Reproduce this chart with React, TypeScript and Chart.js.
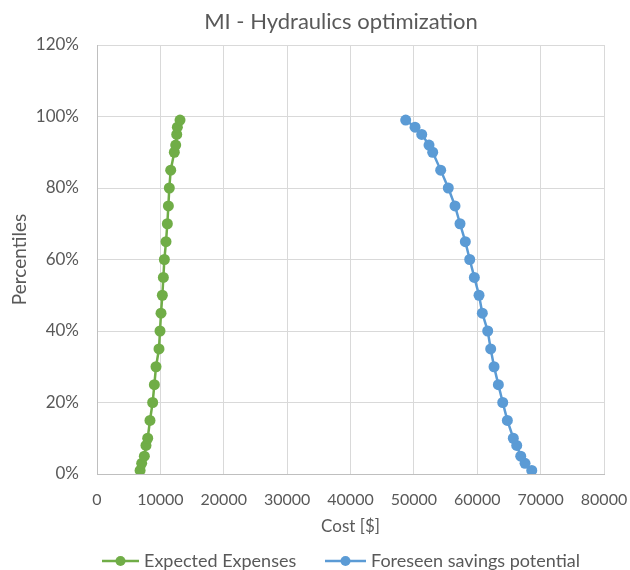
import React, { useEffect, useRef } from "react";
import { Chart, registerables } from "chart.js";

Chart.register(...registerables);

const chartTitle = "MI - Hydraulics optimization";
const xTitle = "Cost [$]";
const yTitle = "Percentiles";
const seriesNames = ["Expected Expenses", "Foreseen savings potential"];
const seriesColors = ["#70AD47", "#5B9BD5"];

const percentiles = [1, 3, 5, 8, 10, 15, 20, 25, 30, 35, 40, 45, 50, 55, 60, 65, 70, 75, 80, 85, 90, 92, 95, 97, 99];
const expectedExpenses = [6800, 7050, 7470, 7730, 8000, 8360, 8780, 9050, 9310, 9780, 9940, 10100, 10310, 10470, 10630, 10890, 11100, 11260, 11410, 11630, 12200, 12420, 12580, 12680, 13100];
const savingsPotential = [68600, 67540, 66860, 66230, 65690, 64750, 64020, 63330, 62650, 62120, 61650, 60800, 60280, 59540, 58810, 58120, 57280, 56490, 55430, 54230, 52970, 52390, 51240, 50180, 48710];

const xMin = 0, xMax = 80000, xStep = 10000;
const yMin = 0, yMax = 120, yStep = 20;

const FONT = "Lato, 'Open Sans', sans-serif";
const TEXT = "#595959";

const labelsPlugin = {
  id: "customLabels",
  afterDraw(chart: any) {
    const ctx = chart.ctx;
    const area = chart.chartArea;
    ctx.save();
    ctx.fillStyle = TEXT;
    // title
    ctx.font = `22px ${FONT}`;
    ctx.textAlign = "center";
    ctx.textBaseline = "middle";
    ctx.fillText(chartTitle, 341, 22);
    // x title
    ctx.font = `17px ${FONT}`;
    ctx.fillText(xTitle, (area.left + area.right) / 2, 527);
    // y title
    ctx.save();
    ctx.font = `19px ${FONT}`;
    ctx.translate(20, (area.top + area.bottom) / 2);
    ctx.rotate(-Math.PI / 2);
    ctx.fillText(yTitle, 0, 0);
    ctx.restore();
    // legend
    const legendY = 561;
    const items = [
      { x0: 102, x1: 139, name: seriesNames[0], color: seriesColors[0] },
      { x0: 325, x1: 366, name: seriesNames[1], color: seriesColors[1] },
    ];
    ctx.font = `18px ${FONT}`;
    ctx.textAlign = "left";
    for (const it of items) {
      ctx.strokeStyle = it.color;
      ctx.lineWidth = 2.5;
      ctx.beginPath();
      ctx.moveTo(it.x0, legendY);
      ctx.lineTo(it.x1, legendY);
      ctx.stroke();
      ctx.fillStyle = it.color;
      ctx.beginPath();
      ctx.arc((it.x0 + it.x1) / 2, legendY, 5, 0, Math.PI * 2);
      ctx.fill();
      ctx.fillStyle = TEXT;
      ctx.fillText(it.name, it.x1 + 5, legendY);
    }
    ctx.restore();
  },
};

export default function App() {
  const ref = useRef<HTMLCanvasElement>(null);
  useEffect(() => {
    if (!ref.current) return;
    const mk = (vals: number[]) => vals.map((v, i) => ({ x: v, y: percentiles[i] }));
    const ds = (label: string, vals: number[], color: string) => ({
      label,
      data: mk(vals),
      showLine: true,
      borderColor: color,
      backgroundColor: color,
      borderWidth: 2.5,
      pointRadius: 5.5,
      pointBorderWidth: 0,
      pointBackgroundColor: color,
      tension: 0,
    });
    const chart = new Chart(ref.current, {
      type: "scatter",
      data: {
        datasets: [
          ds(seriesNames[0], expectedExpenses, seriesColors[0]),
          ds(seriesNames[1], savingsPotential, seriesColors[1]),
        ],
      },
      options: {
        animation: false,
        responsive: false,
        maintainAspectRatio: false,
        layout: { padding: { top: 45, right: 26, bottom: 0, left: 0 } },
        plugins: {
          legend: { display: false },
          title: { display: false },
          tooltip: { enabled: false },
        },
        scales: {
          x: {
            type: "linear",
            min: xMin,
            max: xMax,
            afterFit: (s: any) => { s.height = 96; s.paddingRight = 0; s.paddingLeft = 0; },
            ticks: {
              stepSize: xStep,
              color: TEXT,
              font: { family: FONT, size: 16 },
              padding: 16,
              maxRotation: 0,
              callback: (v: any) => String(v),
            },
            grid: { color: "#D9D9D9", lineWidth: 1, drawTicks: false },
            border: { color: "#BFBFBF", width: 1 },
          },
          y: {
            type: "linear",
            min: yMin,
            max: yMax,
            afterFit: (s: any) => { s.width = 97; s.paddingTop = 0; s.paddingBottom = 0; },
            ticks: {
              stepSize: yStep,
              color: TEXT,
              font: { family: FONT, size: 17 },
              padding: 18,
              callback: (v: any) => v + "%",
            },
            grid: { color: "#D9D9D9", lineWidth: 1, drawTicks: false },
            border: { color: "#BFBFBF", width: 1 },
          },
        },
      },
      plugins: [labelsPlugin],
    });
    return () => chart.destroy();
  }, []);
  return (
    <div style={{ position: "absolute", left: 0, top: 0, width: 630, height: 570, background: "#fff" }}>
      <canvas ref={ref} width={630} height={570} style={{ width: 630, height: 570 }} />
    </div>
  );
}
